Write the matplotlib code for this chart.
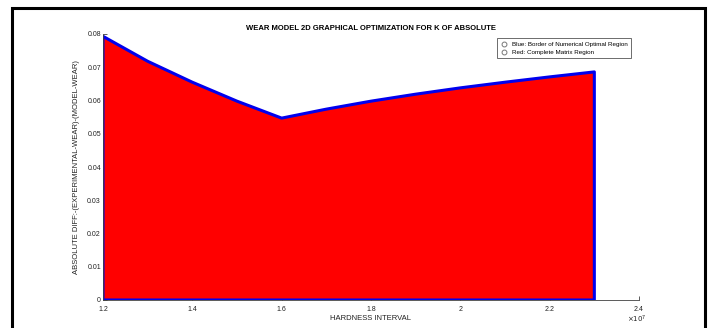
import matplotlib
matplotlib.use("Agg")
import matplotlib.pyplot as plt
from matplotlib.lines import Line2D
from matplotlib.patches import Rectangle
from matplotlib.ticker import FuncFormatter, MultipleLocator

plt.rcParams['font.family'] = ['Liberation Sans', 'DejaVu Sans']

# Hardness interval (Pa) and absolute wear difference along the region border
hardness = [1.2e7, 1.3e7, 1.4e7, 1.5e7, 1.6e7, 1.7e7, 1.8e7, 1.9e7,
            2.0e7, 2.1e7, 2.2e7, 2.3e7]
abs_diff = [0.0793, 0.0718, 0.0655, 0.0598, 0.0547, 0.0574, 0.0598, 0.0619,
            0.0638, 0.0655, 0.0671, 0.0686]

legend_labels = ["Blue: Border of Numerical Optimal Region",
                 "Red: Complete Matrix Region"]

fig = plt.figure(figsize=(7.13, 3.28), dpi=100)
ax = fig.add_axes([103 / 713, 28 / 328, 536 / 713, 266 / 328])

# closed region: down to zero at both ends
poly_x = [hardness[0]] + hardness + [hardness[-1]]
poly_y = [0.0] + abs_diff + [0.0]
ax.fill(poly_x, poly_y, facecolor='#ff0000', edgecolor='#0000ee',
        linewidth=2.2, joinstyle='round', zorder=2)

ax.set_xlim(1.2e7, 2.4e7)
ax.set_ylim(0, 0.08)
ax.xaxis.set_major_locator(MultipleLocator(0.2e7))
ax.yaxis.set_major_locator(MultipleLocator(0.01))
ax.xaxis.set_major_formatter(FuncFormatter(lambda v, p: f"{v / 1e7:g}"))
ax.yaxis.set_major_formatter(FuncFormatter(lambda v, p: f"{v:g}"))

for s in ('top', 'right'):
    ax.spines[s].set_visible(False)
for s in ('left', 'bottom'):
    ax.spines[s].set_color('#404040')
    ax.spines[s].set_linewidth(0.6)
ax.tick_params(direction='in', length=3, width=0.6, color='#404040',
               labelsize=5, labelcolor='#222222')
ax.tick_params(axis='x', pad=4)
ax.tick_params(axis='y', pad=1.5)

ax.set_title("WEAR MODEL 2D GRAPHICAL OPTIMIZATION FOR K OF ABSOLUTE",
             fontsize=5.5, fontweight='bold', pad=3)
ax.set_xlabel("HARDNESS INTERVAL", fontsize=5.5, labelpad=2, color='#222222')
ax.set_ylabel("ABSOLUTE DIFF:-(EXPERIMENTAL-WEAR)-(MODEL-WEAR)", fontsize=5.5,
              labelpad=5, color='#222222')
ax.text(0.995, -0.052, r"$\times10^{7}$", transform=ax.transAxes,
        fontsize=5, ha='center', va='top', color='#222222')

handles = [Line2D([], [], linestyle='none', marker='o', markersize=3.5,
                  markerfacecolor='white', markeredgecolor='#777777',
                  markeredgewidth=0.7) for _ in legend_labels]
leg = ax.legend(handles, legend_labels, loc='upper right',
                bbox_to_anchor=(0.99, 0.995), fontsize=4.5, frameon=True,
                fancybox=False, edgecolor='#555555', framealpha=1,
                handlelength=1.2, handletextpad=0.6, borderpad=0.5,
                labelspacing=0.4)
leg.get_frame().set_linewidth(0.6)

# outer frame around the figure
fig.add_artist(Rectangle((12 / 713, -0.05), 693 / 713, 1.027,
                         transform=fig.transFigure, fill=False,
                         edgecolor='black', linewidth=2.2, clip_on=False))

fig.savefig("out.png", dpi=100)
